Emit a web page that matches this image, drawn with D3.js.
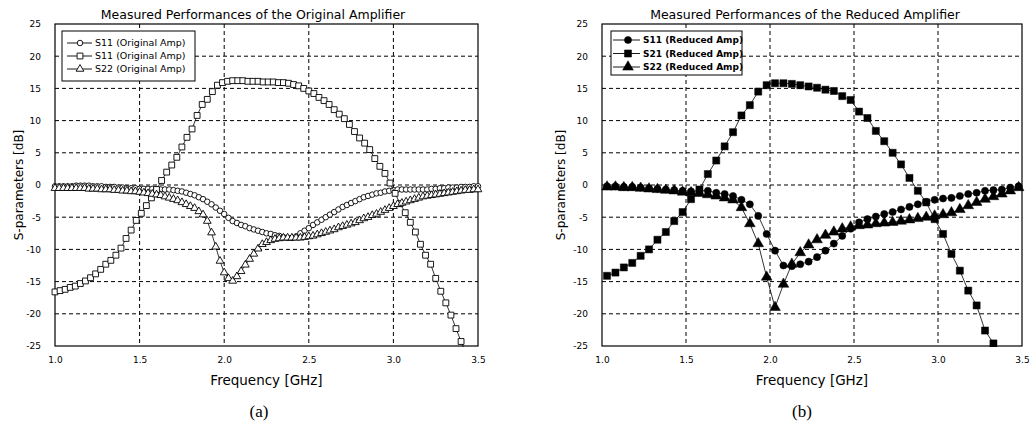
<!DOCTYPE html>
<html><head><meta charset="utf-8">
<script src="https://cdn.jsdelivr.net/npm/d3@7"></script>
<style>body{margin:0;background:#fff}svg{display:block}</style>
</head><body><svg id="c" width="1031" height="426"></svg>
<script>
// ---------- DATA ----------
const xTicks = [1.0, 1.5, 2.0, 2.5, 3.0, 3.5];
const xTickLabels = ["1.0", "1.5", "2.0", "2.5", "3.0", "3.5"];
const yTicks = [25, 20, 15, 10, 5, 0, -5, -10, -15, -20, -25];
const yTickLabels = ["25", "20", "15", "10", "5", "0", "-5", "-10", "-15", "-20", "-25"];

const titleOrig = "Measured Performances of the Original Amplifier";
const titleRed = "Measured Performances of the Reduced Amplifier";
const legendOrig = ["S11 (Original Amp)", "S11 (Original Amp)", "S22 (Original Amp)"];
const legendRed = ["S11 (Reduced Amp)", "S21 (Reduced Amp)", "S22 (Reduced Amp)"];

// Original amplifier (a)
const freqOrig = [
1.000,1.025,1.050,1.075,1.100,1.125,1.150,1.175,1.200,1.225,
1.250,1.275,1.300,1.325,1.350,1.375,1.400,1.425,1.450,1.475,
1.500,1.525,1.550,1.575,1.600,1.625,1.650,1.675,1.700,1.725,
1.750,1.775,1.800,1.825,1.850,1.875,1.900,1.925,1.950,1.975,
2.000,2.025,2.050,2.075,2.100,2.125,2.150,2.175,2.200,2.225,
2.250,2.275,2.300,2.325,2.350,2.375,2.400,2.425,2.450,2.475,
2.500,2.525,2.550,2.575,2.600,2.625,2.650,2.675,2.700,2.725,
2.750,2.775,2.800,2.825,2.850,2.875,2.900,2.925,2.950,2.975,
3.000,3.025,3.050,3.075,3.100,3.125,3.150,3.175,3.200,3.225,
3.250,3.275,3.300,3.325,3.350,3.375,3.400,3.425,3.450,3.475,
3.500];
const s11Orig = [
-0.2,-0.2,-0.2,-0.2,-0.2,-0.1,-0.1,-0.1,-0.1,-0.2,
-0.2,-0.2,-0.3,-0.3,-0.3,-0.4,-0.4,-0.5,-0.5,-0.5,
-0.6,-0.6,-0.6,-0.6,-0.7,-0.7,-0.7,-0.7,-0.8,-0.9,
-1.0,-1.2,-1.4,-1.6,-1.9,-2.2,-2.6,-3.0,-3.5,-4.0,
-4.5,-5.1,-5.6,-5.9,-6.2,-6.4,-6.7,-6.9,-7.1,-7.3,
-7.5,-7.6,-7.8,-7.9,-8.1,-8.2,-8.2,-8.0,-7.5,-7.1,
-6.7,-6.2,-5.8,-5.4,-5.0,-4.6,-4.2,-3.8,-3.4,-3.1,
-2.8,-2.5,-2.2,-1.9,-1.7,-1.5,-1.3,-1.2,-1.0,-0.9,
-0.8,-0.7,-0.7,-0.7,-0.7,-0.7,-0.7,-0.7,-0.7,-0.6,
-0.6,-0.5,-0.5,-0.4,-0.4,-0.4,-0.3,-0.3,-0.3,-0.2,
-0.2];
const s22Orig = [
-0.5,-0.5,-0.5,-0.5,-0.5,-0.5,-0.5,-0.5,-0.6,-0.6,
-0.6,-0.7,-0.7,-0.7,-0.8,-0.8,-0.9,-0.9,-1.0,-1.0,
-1.1,-1.2,-1.3,-1.4,-1.5,-1.6,-1.8,-2.0,-2.2,-2.4,
-2.7,-3.0,-3.3,-3.6,-4.1,-4.6,-5.6,-7.4,-9.6,-11.8,
-13.6,-14.5,-14.9,-14.2,-13.4,-12.4,-11.5,-10.7,-9.9,-9.2,
-8.9,-8.6,-8.4,-8.3,-8.2,-8.2,-8.2,-8.2,-8.2,-8.1,
-8.0,-7.9,-7.7,-7.5,-7.3,-7.1,-6.9,-6.6,-6.4,-6.2,
-6.0,-5.8,-5.5,-5.2,-5.0,-4.7,-4.5,-4.2,-3.9,-3.6,
-3.3,-3.0,-2.8,-2.6,-2.4,-2.2,-2.0,-1.8,-1.7,-1.6,
-1.5,-1.4,-1.3,-1.2,-1.1,-1.0,-0.9,-0.8,-0.8,-0.7,
-0.7];
const freqOrigS21 = [
1.00,1.03,1.06,1.09,1.12,1.15,1.18,1.21,1.24,1.27,
1.30,1.33,1.36,1.39,1.42,1.45,1.48,1.51,1.54,1.57,
1.60,1.63,1.66,1.69,1.72,1.75,1.78,1.81,1.84,1.87,
1.90,1.93,1.96,1.99,2.02,2.05,2.08,2.11,2.14,2.17,
2.20,2.23,2.26,2.29,2.32,2.35,2.38,2.41,2.44,2.47,
2.50,2.53,2.56,2.59,2.62,2.65,2.68,2.71,2.74,2.77,
2.80,2.83,2.86,2.89,2.92,2.95,2.98,3.01,3.04,3.07,
3.10,3.13,3.16,3.19,3.22,3.25,3.28,3.31,3.34,3.37,
3.40,3.43,3.46,3.49];
const s21Orig = [
-16.6,-16.4,-16.2,-15.9,-15.7,-15.3,-14.9,-14.4,-13.8,-13.1,
-12.3,-11.7,-10.9,-9.8,-8.3,-7.0,-5.5,-4.4,-3.2,-2.0,
-0.7,0.7,2.0,3.1,4.3,5.9,7.4,8.7,10.8,12.5,
13.3,14.5,15.5,15.9,16.1,16.2,16.2,16.2,16.1,16.1,
16.1,16.0,16.0,16.0,15.9,15.9,15.8,15.6,15.4,15.0,
14.6,14.2,13.6,13.1,12.5,11.7,11.0,10.3,9.4,8.3,
7.3,6.5,5.5,4.1,2.9,1.8,0.3,-1.3,-2.9,-4.3,
-5.8,-7.3,-9.2,-10.9,-12.3,-14.5,-16.5,-18.3,-20.2,-22.3,
-24.3,-26.2,-28.2,-30.1];

// Reduced amplifier (b)
const freqRed = [
1.03,1.08,1.13,1.18,1.23,1.28,1.33,1.38,1.43,1.48,
1.53,1.58,1.63,1.68,1.73,1.78,1.83,1.88,1.93,1.98,
2.03,2.08,2.13,2.18,2.23,2.28,2.33,2.38,2.43,2.48,
2.53,2.58,2.63,2.68,2.73,2.78,2.83,2.88,2.93,2.98,
3.03,3.08,3.13,3.18,3.23,3.28,3.33,3.38,3.43,3.48];
const s11Red = [
-0.2,-0.2,-0.3,-0.3,-0.4,-0.5,-0.6,-0.7,-0.8,-0.9,
-1.0,-0.9,-0.9,-1.2,-1.4,-1.7,-2.3,-3.0,-4.8,-7.6,
-10.2,-12.5,-12.6,-12.3,-11.9,-11.2,-10.2,-9.1,-7.9,-6.8,
-5.8,-5.3,-4.9,-4.5,-4.2,-3.8,-3.4,-3.0,-2.6,-2.3,
-2.1,-2.0,-1.7,-1.4,-1.2,-0.9,-0.8,-0.7,-0.4,-0.2];
const s21Red = [
-14.1,-13.6,-12.8,-12.1,-11.0,-10.0,-8.5,-7.3,-5.6,-4.2,
-2.2,-0.7,1.7,3.8,6.0,8.2,10.8,12.4,14.5,15.5,
15.8,15.8,15.7,15.5,15.3,15.1,14.8,14.6,13.8,13.2,
11.4,10.4,8.4,6.8,5.0,3.2,1.1,-0.9,-2.7,-5.3,
-7.6,-10.7,-13.3,-16.4,-18.7,-22.6,-24.6,-27.5,-30.0,-32.0];
const s22Red = [
-0.3,-0.3,-0.4,-0.4,-0.5,-0.6,-0.7,-0.8,-0.9,-1.1,
-1.2,-1.3,-1.5,-1.7,-2.0,-2.3,-3.5,-6.0,-9.1,-14.3,
-19.0,-15.4,-12.3,-10.5,-9.3,-8.5,-7.8,-7.3,-6.8,-6.5,
-6.3,-6.2,-6.0,-5.9,-5.8,-5.6,-5.4,-5.2,-5.0,-4.8,
-4.6,-4.3,-3.8,-3.2,-2.7,-2.2,-1.8,-1.4,-0.9,-0.4];

// ---------- DRAWING ----------
const svg = d3.select("#c");
const FONT = "DejaVu Sans, Liberation Sans, sans-serif";

function panel(cfg) {
  const x = d3.scaleLinear().domain([1.0, 3.5]).range([cfg.x0, cfg.x1]);
  const y = d3.scaleLinear().domain([-25, 25]).range([cfg.yb, cfg.yt]);
  const g = svg.append("g");

  // grid
  g.append("g").selectAll("line").data(xTicks.slice(1, -1)).join("line")
    .attr("x1", d => x(d)).attr("x2", d => x(d)).attr("y1", cfg.yt).attr("y2", cfg.yb)
    .attr("stroke", "#000").attr("stroke-width", 1).attr("stroke-dasharray", "4,3");
  g.append("g").selectAll("line").data(yTicks.slice(1, -1)).join("line")
    .attr("y1", d => y(d)).attr("y2", d => y(d)).attr("x1", cfg.x0).attr("x2", cfg.x1)
    .attr("stroke", "#000").attr("stroke-width", 1).attr("stroke-dasharray", "4,3");

  // axes (labels only)
  const xa = g.append("g").attr("transform", `translate(0,${cfg.yb})`)
    .call(d3.axisBottom(x).tickValues(xTicks).tickFormat((d, i) => xTickLabels[i]).tickSize(0).tickPadding(11));
  xa.select(".domain").remove();
  xa.selectAll("text").attr("font-family", FONT).attr("font-size", 9).attr("fill", "#000");
  const ya = g.append("g").attr("transform", `translate(${cfg.x0},0)`)
    .call(d3.axisLeft(y).tickValues(yTicks).tickFormat((d, i) => yTickLabels[i]).tickSize(0).tickPadding(14));
  ya.select(".domain").remove();
  ya.selectAll("text").attr("font-family", FONT).attr("font-size", 9).attr("fill", "#000");

  // frame
  g.append("rect").attr("x", cfg.x0).attr("y", cfg.yt)
    .attr("width", cfg.x1 - cfg.x0).attr("height", cfg.yb - cfg.yt)
    .attr("fill", "none").attr("stroke", "#000").attr("stroke-width", 1.2);

  // clip
  const cid = "clip" + cfg.id;
  svg.append("defs").append("clipPath").attr("id", cid).append("rect")
    .attr("x", cfg.x0 - 6).attr("y", cfg.yt).attr("width", cfg.x1 - cfg.x0 + 12).attr("height", cfg.yb - cfg.yt + 1);
  const pg = g.append("g").attr("clip-path", `url(#${cid})`);

  const line = d3.line().x(d => x(d[0])).y(d => y(d[1]));
  cfg.series.forEach(s => {
    const pts = s.f.map((f, i) => [f, s.v[i]]);
    pg.append("path").datum(pts).attr("d", line)
      .attr("fill", "none").attr("stroke", "#000").attr("stroke-width", 0.8);
    pg.append("g").selectAll("path").data(pts.filter(p => p[1] >= -25.5)).join("path")
      .attr("transform", p => `translate(${x(p[0])},${y(p[1])})`)
      .attr("d", d3.symbol().type(s.sym).size(s.size))
      .attr("fill", cfg.filled ? "#000" : "#fff")
      .attr("stroke", "#000").attr("stroke-width", cfg.filled ? 0.5 : 0.9);
  });

  // legend
  const L = cfg.legend;
  g.append("rect").attr("x", L.x).attr("y", L.y).attr("width", L.w).attr("height", L.h)
    .attr("fill", "#fff").attr("stroke", "#000").attr("stroke-width", 1);
  cfg.series.forEach((s, i) => {
    const ry = L.rows[i];
    g.append("line").attr("x1", L.lx0).attr("x2", L.lx1).attr("y1", ry).attr("y2", ry)
      .attr("stroke", "#000").attr("stroke-width", 0.9);
    g.append("path").attr("transform", `translate(${L.mx},${ry})`)
      .attr("d", d3.symbol().type(s.sym).size(s.size))
      .attr("fill", cfg.filled ? "#000" : "#fff").attr("stroke", "#000").attr("stroke-width", cfg.filled ? 0.5 : 0.9);
    g.append("text").attr("x", L.tx).attr("y", ry).attr("dy", "0.35em")
      .attr("font-family", FONT).attr("font-size", L.fs).attr("font-weight", L.fw)
      .text(cfg.legendText[i]);
  });

  // titles
  g.append("text").attr("x", cfg.titleX).attr("y", 19).attr("text-anchor", "middle")
    .attr("font-family", FONT).attr("font-size", 12.5).text(cfg.title);
  g.append("text").attr("x", (cfg.x0 + cfg.x1) / 2).attr("y", 385).attr("text-anchor", "middle")
    .attr("font-family", FONT).attr("font-size", 13.5).text("Frequency [GHz]");
  g.append("text").attr("transform", `translate(${cfg.ylabX},${(cfg.yt + cfg.yb) / 2}) rotate(-90)`)
    .attr("text-anchor", "middle").attr("font-family", FONT).attr("font-size", 12).text("S-parameters [dB]");
  g.append("text").attr("x", cfg.capX).attr("y", 417).attr("text-anchor", "middle")
    .attr("font-family", "Liberation Serif, Times New Roman, serif").attr("font-size", 17).text(cfg.caption);
}

panel({
  id: "a", x0: 55, x1: 478, yt: 24, yb: 346, filled: false,
  title: titleOrig, titleX: 253, ylabX: 23, capX: 259, caption: "(a)",
  legendText: legendOrig,
  legend: { x: 62, y: 31, w: 133, h: 50, rows: [43, 56, 69], lx0: 67, lx1: 92, mx: 80, tx: 95, fs: 9.5, fw: "normal" },
  series: [
    { f: freqOrig, v: s11Orig, sym: d3.symbolCircle, size: 24 },
    { f: freqOrigS21, v: s21Orig, sym: d3.symbolSquare, size: 34 },
    { f: freqOrig, v: s22Orig, sym: d3.symbolTriangle, size: 26 }
  ]
});

panel({
  id: "b", x0: 602, x1: 1022, yt: 24, yb: 346, filled: true,
  title: titleRed, titleX: 805, ylabX: 565, capX: 802, caption: "(b)",
  legendText: legendRed,
  legend: { x: 611, y: 31, w: 131, h: 44, rows: [40, 53.5, 67], lx0: 613, lx1: 640, mx: 628, tx: 643, fs: 9, fw: "bold" },
  series: [
    { f: freqRed, v: s11Red, sym: d3.symbolCircle, size: 40 },
    { f: freqRed, v: s21Red, sym: d3.symbolSquare, size: 50 },
    { f: freqRed, v: s22Red, sym: d3.symbolTriangle, size: 50 }
  ]
});
</script></body></html>
